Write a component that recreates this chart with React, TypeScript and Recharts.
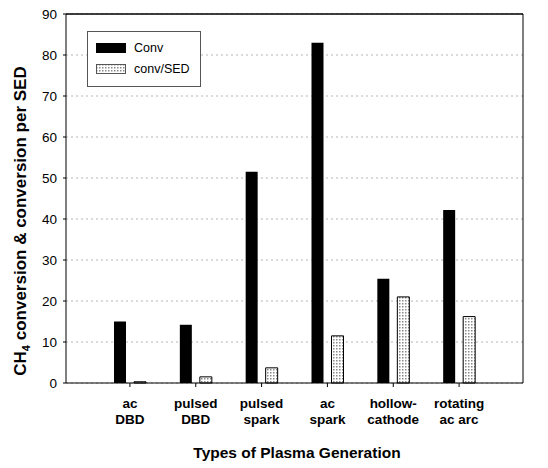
import { BarChart, Bar, XAxis, YAxis, CartesianGrid, Legend, ReferenceLine } from 'recharts'

const categories = ['ac\nDBD', 'pulsed\nDBD', 'pulsed\nspark', 'ac\nspark', 'hollow-\ncathode', 'rotating\nac arc']
const convValues = [15.0, 14.2, 51.5, 83.0, 25.4, 42.2]
const convPerSedValues = [0.3, 1.5, 3.7, 11.5, 21.0, 16.2]
const yTicks = [0, 10, 20, 30, 40, 50, 60, 70, 80, 90]

const data = categories.map((name, i) => ({
    name,
    conv: convValues[i],
    convSed: convPerSedValues[i],
}))

const FONT = '"Liberation Sans", Arial, sans-serif'

function CategoryTick({ x, y, payload }: any) {
    const lines = String(payload.value).split('\n')
    return (
        <text x={x} y={y + 19} textAnchor="middle" fontFamily={FONT} fontWeight="bold" fontSize={13.5} fill="#000">
            {lines.map((l, i) => (
                <tspan key={i} x={x} dy={i === 0 ? 0 : 16}>{l}</tspan>
            ))}
        </text>
    )
}

function YTitle() {
    return (
        <text transform="translate(26, 221) rotate(-90)" textAnchor="middle" fontFamily={FONT} fontWeight="bold" fontSize={17} fill="#000">
            <tspan>CH</tspan>
            <tspan fontSize={11} dy={4}>4</tspan>
            <tspan dy={-4}> conversion &amp; conversion per SED</tspan>
        </text>
    )
}

function XTitle() {
    return (
        <text x={297} y={458} textAnchor="middle" fontFamily={FONT} fontWeight="bold" fontSize={15.5} fill="#000">
            Types of Plasma Generation
        </text>
    )
}

export default function App() {
    return (
        <div style={{ position: 'absolute', left: 0, top: 0, background: '#fff' }}>
            <BarChart
                width={548}
                height={468}
                data={data}
                margin={{ top: 14, right: 0, left: 0, bottom: 0 }}
                barSize={12}
                barGap={8}
            >
                <defs>
                    <pattern id="dots" width="3" height="3" patternUnits="userSpaceOnUse">
                        <rect width="3" height="3" fill="#ffffff" />
                        <rect x="0" y="0" width="1.5" height="1.5" fill="#8a8a8a" />
                    </pattern>
                </defs>
                <CartesianGrid vertical={false} stroke="#b5b5b5" strokeDasharray="2 3" yAxisId="left" />
                <XAxis
                    dataKey="name"
                    height={85}
                    padding={{ left: 31, right: 31 }}
                    tick={<CategoryTick />}
                    tickLine={{ stroke: '#000' }}
                    tickSize={4}
                    axisLine={{ stroke: '#000' }}
                    interval={0}
                    label={{ content: () => <XTitle /> }}
                />
                <YAxis
                    yAxisId="left"
                    width={66}
                    domain={[0, 90]}
                    ticks={yTicks}
                    interval={0}
                    axisLine={{ stroke: '#000' }}
                    tickLine={{ stroke: '#000' }}
                    tickSize={3}
                    tick={{ fill: '#000', fontSize: 13.5, fontFamily: FONT, dx: -4 }}
                    label={{ content: () => <YTitle /> }}
                />
                <YAxis
                    yAxisId="right"
                    orientation="right"
                    width={25}
                    domain={[0, 90]}
                    ticks={yTicks}
                    interval={0}
                    axisLine={{ stroke: '#000' }}
                    tickLine={{ stroke: '#000' }}
                    tickSize={5}
                    tick={{ fill: '#000', fontSize: 13.5, fontFamily: FONT, textAnchor: 'start', dx: 4 }}
                />
                <ReferenceLine yAxisId="left" y={90} stroke="#000" strokeWidth={1.5} />
                <Legend
                    layout="vertical"
                    verticalAlign="top"
                    align="left"
                    content={() => (
                        <div
                            style={{
                                position: 'absolute',
                                left: 87,
                                top: 31,
                                width: 114,
                                height: 56,
                                border: '1px solid #555',
                                background: '#fff',
                                fontFamily: FONT,
                                fontSize: 12.5,
                                boxSizing: 'border-box',
                            }}
                        >
                            <div style={{ position: 'absolute', left: 8, top: 11, width: 30, height: 10, background: '#000' }} />
                            <div style={{ position: 'absolute', left: 46, top: 8, lineHeight: '16px' }}>Conv</div>
                            <svg style={{ position: 'absolute', left: 8, top: 32 }} width={30} height={10}>
                                <rect x={0.5} y={0.5} width={29} height={9} fill="url(#dots)" stroke="#555" />
                            </svg>
                            <div style={{ position: 'absolute', left: 46, top: 29, lineHeight: '16px' }}>conv/SED</div>
                        </div>
                    )}
                    wrapperStyle={{ left: 0, top: 0 }}
                />
                <Bar yAxisId="left" dataKey="conv" name="Conv" fill="#000" isAnimationActive={false} />
                <Bar yAxisId="left" dataKey="convSed" name="conv/SED" fill="url(#dots)" stroke="#000" strokeWidth={1} isAnimationActive={false} />
            </BarChart>
        </div>
    )
}
